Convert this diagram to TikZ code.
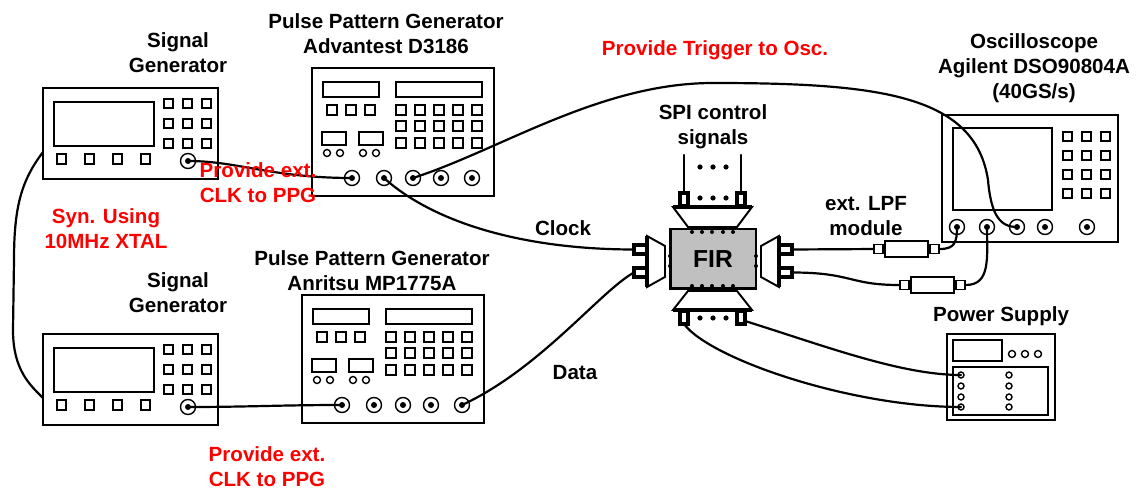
\documentclass[tikz,border=0pt]{standalone}
\usepackage{fontspec}
\setmainfont{Liberation Sans}
\usetikzlibrary{positioning}
\definecolor{firgray}{RGB}{192,192,192}

\begin{document}
\begin{tikzpicture}[
  x=0.02cm, y=-0.02cm,
  every node/.style={font=\bfseries\fontsize{11.7}{14.2}\selectfont, align=center, inner sep=0pt},
  note/.style={text=red},
  devframe/.style={line width=1.1pt},
  devpart/.style={line width=0.8pt},
  cable/.style={line width=1.25pt, line cap=round},
  firpad/.style={draw, fill=white, line width=2pt},
  lpf/.style={draw, fill=white, line width=1.1pt, minimum width=0.86cm, minimum height=0.32cm},
  lpfpad/.style={draw, fill=white, line width=1.1pt, minimum size=0.18cm},
  % bench instruments, origin at the top left corner
  siggen/.pic={
    \draw[devframe] (0,0) rectangle (175,91);
    \draw[devpart] (11,14) rectangle (111,58);
    \foreach \x in {14,42,70,98}
      \draw[devpart] (\x,66) rectangle ++(9,10);
    \foreach \x in {121,140,159}
      \foreach \y in {11,31,51}
        \draw[devpart] (\x,\y) rectangle ++(9,9);
    \draw[devpart] (145,73) circle[radius=7.5];
    \fill (145,73) circle[radius=3];
    \coordinate (-out) at (145,73);
    \coordinate (-sync) at (0,64);
  },
  ppg/.pic={
    \draw[devframe] (0,0) rectangle (182,128);
    \draw[devpart] (11,14) rectangle (67,29);
    \draw[devpart] (84,14) rectangle (170,29);
    \foreach \x in {15,34,53}
      \draw[devpart] (\x,37) rectangle ++(10,10);
    \foreach \x in {84,103,122,141,160}
      \foreach \y in {37,53,70}
        \draw[devpart] (\x,\y) rectangle ++(10,10);
    \foreach \x in {10,47}
      \draw[devpart] (\x,64) rectangle ++(24,13);
    \foreach \x in {15,28,51,64}
      \draw[devpart] (\x,85) circle[radius=3.5];
    \foreach \x [count=\i] in {40,72,101,129,160} {
      \draw[devpart] (\x,110) circle[radius=7.5];
      \fill (\x,110) circle[radius=3];
      \coordinate (-c\i) at (\x,110);
    }
  },
  osc/.pic={
    \draw[devframe] (0,0) rectangle (176,127);
    \draw[devpart] (11,13) rectangle (110,95);
    \foreach \x in {121,140,159}
      \foreach \y in {17,36,55,74}
        \draw[devpart] (\x,\y) rectangle ++(9,9);
    \foreach \x [count=\i] in {15,45,75,103,145} {
      \draw[devpart] (\x,112) circle[radius=7.5];
      \fill (\x,112) circle[radius=3];
      \coordinate (-c\i) at (\x,112);
    }
  },
  psu/.pic={
    \draw[devframe] (0,0) rectangle (108,86);
    \draw[devpart] (6,6) rectangle (55,27);
    \foreach \x in {65,78,91}
      \draw[devpart] (\x,20) circle[radius=3.5];
    \draw[devpart] (6,33) rectangle (101,81);
    \foreach \x in {14,62}
      \foreach \y in {41,52,63,73}
        \draw[devpart] (\x,\y) circle[radius=3];
    \coordinate (-t1) at (14,41);
    \coordinate (-t4) at (14,73);
  }
]
\useasboundingbox (0,0) rectangle (1140,489);

% instruments
\pic (sgtop) at (43,88) {siggen};
\pic (sgbot) at (43,334) {siggen};
\pic (ppgtop) at (312,68) {ppg};
\pic (ppgbot) at (302,295) {ppg};
\pic (osc) at (942,115) {osc};
\pic (psu) at (947,334) {psu};

% bus adapters round the chip
\draw[devframe, fill=white] (673,207) -- (752,207) -- (737,227) -- (688,227) -- cycle;
\draw[devframe, fill=white] (673,310) -- (752,310) -- (737,291) -- (688,291) -- cycle;
\draw[devframe, fill=white] (647,236) -- (665,246) -- (665,277) -- (647,287) -- cycle;
\draw[devframe, fill=white] (779,236) -- (761,246) -- (761,277) -- (779,287) -- cycle;
\draw[line width=2.6pt] (673,207) -- (752,207) (673,310) -- (752,310)
  (647,236) -- (647,287) (779,236) -- (779,287);

\node[draw, fill=firgray, line width=1.7pt, minimum width=1.72cm, minimum height=1.2cm,
  font=\bfseries\fontsize{14}{14}\selectfont] (fir) at (713,259) {FIR};

% pins on the chip edges
\foreach \x in {692,702,712,723,733} {
  \fill (\x,232) circle[radius=2];
  \fill (\x,286) circle[radius=2];
}
\foreach \y in {256,266} {
  \fill (670,\y) circle[radius=2];
  \fill (756,\y) circle[radius=2];
}

% pads on the adapters
\foreach \x in {680,737} {
  \draw[firpad] (\x,193) rectangle ++(8,13);
  \draw[firpad] (\x,311) rectangle ++(8,13);
}
\foreach \y in {245,268} {
  \draw[firpad] (634,\y) rectangle ++(13,9);
  \draw[firpad] (779,\y) rectangle ++(13,9);
}
\foreach \x in {700,713,726} {
  \fill (\x,167) circle[radius=2.6];
  \fill (\x,198) circle[radius=2.6];
  \fill (\x,318) circle[radius=2.6];
}
\coordinate (fir-ck) at (634,249.5);
\coordinate (fir-dt) at (634,272.5);
\coordinate (fir-oa) at (792,249.5);
\coordinate (fir-ob) at (792,272.5);
\coordinate (fir-pa) at (684,324);
\coordinate (fir-pb) at (745,321);
\coordinate (spi-l) at (684,155);
\coordinate (spi-r) at (741,155);
\draw[cable] (684,193) -- (spi-l);
\draw[cable] (741,193) -- (spi-r);

% low pass filters
\node[lpf] (lpfA) at (906.5,249) {};
\node[lpfpad, left=0pt of lpfA] (lpfA-in) {};
\node[lpfpad, right=0pt of lpfA] (lpfA-out) {};
\node[lpf] (lpfB) at (932.5,285) {};
\node[lpfpad, left=0pt of lpfB] (lpfB-in) {};
\node[lpfpad, right=0pt of lpfB] (lpfB-out) {};

% cables
\draw[cable] (sgtop-sync) .. controls (22,180) and (14,205) .. (14,260) -- (13,330)
  .. controls (13,370) and (30,385) .. (sgbot-sync);
\draw[cable] (sgtop-out) .. controls +(50,0) and +(-80,0) .. (ppgtop-c1);
\draw[cable] (sgbot-out) .. controls +(60,0) and +(-60,0) .. (ppgbot-c1);
\draw[cable] (ppgtop-c2) .. controls +(50,45) and +(-110,0) .. (fir-ck);
\draw[cable] (ppgbot-c5) .. controls +(78,-36) and +(-33,18) .. (fir-dt);
\draw[cable] (ppgtop-c3) .. controls (500,150) and (600,83) .. (713,83)
  .. controls (880,83) and (975,95) .. (988,180)
  .. controls (991,215) and (1000,227) .. (osc-c3);
\draw[cable] (fir-oa) -- (lpfA-in);
\draw[cable] (lpfA-out.east) .. controls +(15,0) and +(0,15) .. (osc-c1);
\draw[cable] (fir-ob) .. controls +(60,0) and +(-50,0) .. (lpfB-in.west);
\draw[cable] (lpfB-out.east) .. controls +(25,0) and +(0,30) .. (osc-c2);
\draw[cable] (fir-pb) .. controls +(80,25) and +(-60,0) .. (psu-t1);
\draw[cable] (fir-pa) .. controls +(26,35) and +(-110,0) .. (psu-t4);

% labels
\node (sgtopname) at (178,53) {Signal\\Generator};
\node (sgbotname) at (178,293) {Signal\\Generator};
\node (ppgtopname) at (386,34) {Pulse Pattern Generator\\Advantest D3186};
\node (ppgbotname) at (372,271) {Pulse Pattern Generator\\Anritsu MP1775A};
\node (oscname) at (1034,68) {Oscilloscope\\Agilent DSO90804A\\(40GS/s)};
\node (psuname) at (1001,316) {Power Supply};
\node (spiname) at (713,127) {SPI control\\signals};
\node (lpfname) at (866,216) {ext. LPF\\module};
\node (clklbl) at (563,228) {Clock};
\node (datalbl) at (575,373) {Data};
\node[note] (trignote) at (715,50) {Provide Trigger to Osc.};
\node[note] (clknoteA) at (258,183) {Provide ext.\\CLK to PPG};
\node[note] (clknoteB) at (267,467) {Provide ext.\\CLK to PPG};
\node[note] (syncnote) at (106,229) {Syn. Using\\10MHz XTAL};

\end{tikzpicture}
\end{document}
